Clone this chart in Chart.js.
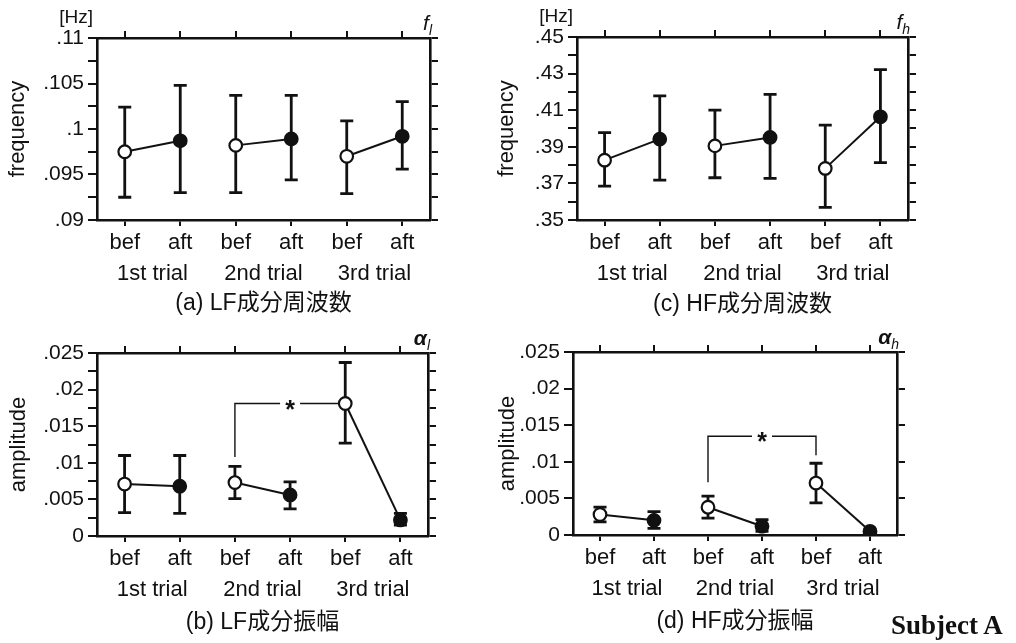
<!DOCTYPE html>
<html>
<head>
<meta charset="utf-8">
<script src="https://cdn.jsdelivr.net/npm/chart.js@4.4.1/dist/chart.umd.min.js"></script>
<style>
  body { margin: 0; background: #fff; }
  #wrap { position: relative; width: 1016px; height: 643px; overflow: hidden; }
  canvas { position: absolute; }
  #subject { position: absolute; left: 891px; top: 612px; font: bold 27px 'Liberation Serif', serif; line-height: 27px; color: #111; }
</style>
</head>
<body>
<div id="wrap">
  <canvas id="cA" width="470" height="320" style="left:0;top:0;width:470px;height:320px"></canvas>
  <canvas id="cC" width="470" height="320" style="left:480px;top:0;width:470px;height:320px"></canvas>
  <canvas id="cB" width="470" height="323" style="left:0;top:320px;width:470px;height:323px"></canvas>
  <canvas id="cD" width="470" height="323" style="left:480px;top:320px;width:470px;height:323px"></canvas>
  <div id="subject">Subject A</div>
</div>
<script>
const cats = ['bef', 'aft', 'bef', 'aft', 'bef', 'aft'];
const trials = ['1st trial', '2nd trial', '3rd trial'];

// (a) LF frequency
const lfFreq   = [0.0975, 0.0987, 0.0982, 0.0989, 0.0970, 0.0992];
const lfFreqLo = [0.0925, 0.0930, 0.0930, 0.0944, 0.0929, 0.0956];
const lfFreqHi = [0.1024, 0.1048, 0.1037, 0.1037, 0.1009, 0.1030];
// (c) HF frequency
const hfFreq   = [0.3827, 0.3942, 0.3905, 0.3951, 0.3782, 0.4064];
const hfFreqLo = [0.3685, 0.3718, 0.3731, 0.3727, 0.3569, 0.3813];
const hfFreqHi = [0.3978, 0.4178, 0.4100, 0.4187, 0.4018, 0.4322];
// (b) LF amplitude
const lfAmp   = [0.0071, 0.0068, 0.0073, 0.0056, 0.0181, 0.0022];
const lfAmpLo = [0.0032, 0.0031, 0.0051, 0.0037, 0.0127, 0.0015];
const lfAmpHi = [0.0110, 0.0110, 0.0095, 0.0074, 0.0237, 0.0031];
// (d) HF amplitude
const hfAmp   = [0.0028, 0.0020, 0.0038, 0.0012, 0.0071, 0.0005];
const hfAmpLo = [0.0018, 0.0009, 0.0023, 0.0005, 0.0044, 0.0003];
const hfAmpHi = [0.0038, 0.0032, 0.0053, 0.0021, 0.0098, 0.0007];

// significance brackets: category index from/to, and the levels of the bracket legs
const lfAmpSig = { from: 2, to: 4, fromY: 0.0108, barY: 0.0181, toY: 0.0181 };
const hfAmpSig = { from: 2, to: 4, fromY: 0.0072, barY: 0.0135, toY: 0.0109 };

const INK = '#111';
const SANS = "'Liberation Sans', Arial, sans-serif";
const CAP = "'Liberation Sans', 'Noto Sans CJK JP', sans-serif";

const fmt = v => {
  const s = String(parseFloat(v.toFixed(6)));
  return s.replace(/^0\./, '.');
};

// error bars, significance bracket and corner labels
const extras = {
  id: 'extras',
  beforeDatasetsDraw(chart) {
    const { ctx, scales: { x, y } } = chart;
    const ds = chart.data.datasets[0];
    ctx.save();
    ctx.strokeStyle = INK;
    ctx.lineWidth = 2.8;
    ds.lo.forEach((lo, i) => {
      const px = x.getPixelForValue(i);
      const yl = y.getPixelForValue(lo);
      const yh = y.getPixelForValue(ds.hi[i]);
      ctx.beginPath();
      ctx.moveTo(px, yl); ctx.lineTo(px, yh);
      ctx.moveTo(px - 6.5, yl); ctx.lineTo(px + 6.5, yl);
      ctx.moveTo(px - 6.5, yh); ctx.lineTo(px + 6.5, yh);
      ctx.stroke();
    });
    const sig = chart.options.plugins.extras.sig;
    if (sig) {
      const x0 = x.getPixelForValue(sig.from), x1 = x.getPixelForValue(sig.to);
      const yb = y.getPixelForValue(sig.barY);
      const mid = (x0 + x1) / 2;
      ctx.lineWidth = 1.4;
      ctx.beginPath();
      ctx.moveTo(x0, y.getPixelForValue(sig.fromY));
      ctx.lineTo(x0, yb);
      ctx.lineTo(mid - 10, yb);
      ctx.moveTo(mid + 10, yb);
      ctx.lineTo(x1, yb);
      ctx.lineTo(x1, y.getPixelForValue(sig.toY));
      ctx.stroke();
      ctx.fillStyle = INK;
      ctx.font = 'bold 25px ' + SANS;
      ctx.textAlign = 'center';
      ctx.textBaseline = 'alphabetic';
      ctx.fillText('*', mid, yb + 14);
    }
    ctx.restore();
  },
  afterDraw(chart) {
    const o = chart.options.plugins.extras;
    const { ctx, chartArea: a } = chart;
    ctx.save();
    ctx.fillStyle = INK;
    ctx.textBaseline = 'alphabetic';
    if (o.unit) {
      ctx.font = '19px ' + SANS;
      ctx.textAlign = 'right';
      ctx.fillText(o.unit, a.left - 4, a.top - 15);
    }
    ctx.textAlign = 'left';
    const mainFont = (o.symBold ? 'italic bold 21px ' : 'italic 21px ') + SANS;
    ctx.font = mainFont;
    const wMain = ctx.measureText(o.sym).width;
    ctx.font = 'italic 14px ' + SANS;
    const wSub = ctx.measureText(o.sub).width;
    const xs = a.right - wMain - wSub + 2;
    ctx.font = mainFont;
    ctx.fillText(o.sym, xs, a.top - 8);
    ctx.font = 'italic 14px ' + SANS;
    ctx.fillText(o.sub, xs + wMain, a.top - 3);
    ctx.restore();
  }
};

function panel(id, p) {
  const isMajor = v => Math.abs((v - p.min) / p.major - Math.round((v - p.min) / p.major)) < 1e-6;
  const tickFont = { family: SANS, size: 21 };
  const labFont = { family: SANS, size: 22 };
  new Chart(document.getElementById(id), {
    type: 'line',
    data: {
      labels: cats,
      datasets: [{
        data: p.mean,
        lo: p.lo,
        hi: p.hi,
        borderColor: INK,
        borderWidth: 2,
        pointRadius: 6.3,
        pointHoverRadius: 6.3,
        pointBorderWidth: 2.2,
        pointBorderColor: INK,
        pointBackgroundColor: cats.map((c, i) => i % 2 ? INK : '#fff'),
        segment: { borderColor: ctx => ctx.p0DataIndex % 2 ? 'rgba(0,0,0,0)' : INK }
      }]
    },
    options: {
      responsive: false,
      animation: false,
      events: [],
      layout: { padding: 0 },
      plugins: {
        legend: { display: false },
        tooltip: { enabled: false },
        title: {
          display: true, position: 'bottom', fullSize: false, text: p.caption, color: INK,
          font: { family: CAP, size: 23, weight: 'normal', lineHeight: 1.2 },
          padding: { top: p.capTop, bottom: p.capBottom }
        },
        extras: { sig: p.sig, unit: p.unit, sym: p.sym, sub: p.sub, symBold: p.symBold }
      },
      scales: {
        x: {
          type: 'category', position: 'bottom', offset: true, weight: 0,
          grid: { offset: false, drawOnChartArea: false, tickLength: 6, color: INK, lineWidth: 2 },
          border: { color: INK, width: 2.6 },
          ticks: { color: INK, font: labFont, padding: 4, autoSkip: false, maxRotation: 0 },
          afterFit: s => { s.height = 36; }
        },
        xg: {
          type: 'category', position: 'bottom', labels: trials, offset: true, weight: 1,
          grid: { display: false, drawTicks: false },
          border: { display: false },
          ticks: { color: INK, font: labFont, padding: 5, autoSkip: false, maxRotation: 0 },
          afterFit: s => { s.height = 31; }
        },
        x2: {
          type: 'category', position: 'top', labels: cats, offset: true,
          grid: { offset: false, drawOnChartArea: false, tickLength: 7, color: INK, lineWidth: 2 },
          border: { color: INK, width: 2.6 },
          ticks: { display: false },
          afterFit: s => { s.height = p.top; }
        },
        y: {
          position: 'left', min: p.min, max: p.max,
          grid: { drawOnChartArea: false, tickLength: 9, color: INK, lineWidth: 2 },
          border: { color: INK, width: 2.6 },
          ticks: {
            stepSize: p.step, autoSkip: false, color: INK, font: tickFont, padding: 4,
            callback: v => isMajor(v) ? fmt(v) : ''
          },
          title: { display: true, text: p.ytitle, color: INK, font: labFont, padding: { top: p.titlePad, bottom: 0 } },
          afterFit: s => { s.width = p.left; }
        },
        y2: {
          position: 'right', min: p.min, max: p.max,
          grid: { drawOnChartArea: false, tickLength: 8, color: INK, lineWidth: 2 },
          border: { color: INK, width: 2.6 },
          ticks: { stepSize: p.step, autoSkip: false, display: false },
          afterFit: s => { s.width = p.right; }
        }
      }
    },
    plugins: [extras]
  });
}

panel('cA', {
  mean: lfFreq, lo: lfFreqLo, hi: lfFreqHi, min: 0.09, max: 0.11, step: 0.0025, major: 0.005,
  ytitle: 'frequency', caption: '(a) LF成分周波数', unit: '[Hz]', sym: 'f', sub: 'l',
  left: 97, right: 40, top: 38, titlePad: 5, capTop: 3.2, capBottom: 2.2
});
panel('cC', {
  mean: hfFreq, lo: hfFreqLo, hi: hfFreqHi, min: 0.35, max: 0.45, step: 0.01, major: 0.02,
  ytitle: 'frequency', caption: '(c) HF成分周波数', unit: '[Hz]', sym: 'f', sub: 'h',
  left: 97, right: 42, top: 37, titlePad: 14, capTop: 4.2, capBottom: 1.2
});
panel('cB', {
  mean: lfAmp, lo: lfAmpLo, hi: lfAmpHi, min: 0, max: 0.025, step: 0.0025, major: 0.005,
  ytitle: 'amplitude', caption: '(b) LF成分振幅', sym: 'α', sub: 'l', symBold: true, sig: lfAmpSig,
  left: 97, right: 42, top: 33, titlePad: 6, capTop: 6.2, capBottom: 6.2
});
panel('cD', {
  mean: hfAmp, lo: hfAmpLo, hi: hfAmpHi, min: 0, max: 0.025, step: 0.005, major: 0.005,
  ytitle: 'amplitude', caption: '(d) HF成分振幅', sym: 'α', sub: 'h', symBold: true, sig: hfAmpSig,
  left: 93, right: 53, top: 32, titlePad: 15, capTop: 5.9, capBottom: 7.5
});
</script>
</body>
</html>
